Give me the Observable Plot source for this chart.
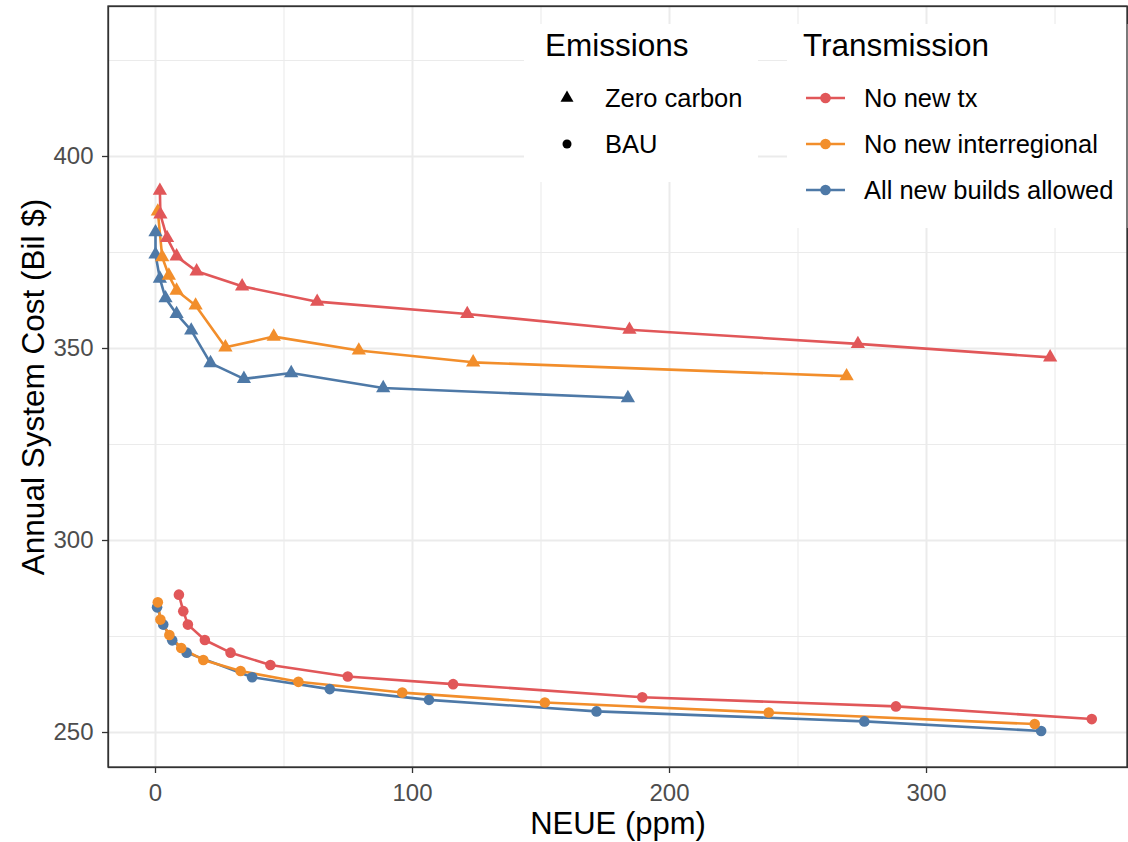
<!DOCTYPE html>
<html><head><meta charset="utf-8">
<script src="https://cdn.jsdelivr.net/npm/d3@7"></script>
<script src="https://cdn.jsdelivr.net/npm/@observablehq/plot@0.6"></script>
<style>
body{margin:0;background:#fff;}
#wrap{position:relative;width:1128px;height:842px;}
#wrap svg{display:block}
</style></head><body><div id="wrap"></div>
<script>
const txNames = ["No new tx","No new interregional","All new builds allowed"];
const txColors = ["#E15759","#F28E2B","#4E79A7"];
const emNames = ["Zero carbon","BAU"];
const emSymbols = ["triangle","circle"];
const xTicks = [0,100,200,300];
const xMinor = [50,150,250,350];
const yTicks = [250,300,350,400];
const yMinor = [275,325,375,425];
const xLabel = "NEUE (ppm)";
const yLabel = "Annual System Cost (Bil $)";

const zeroNoTx = [[1.7,391.1],[1.9,384.9],[4.5,378.8],[8.2,374.0],[16.0,370.1],[33.7,366.2],[62.9,362.2],[121.3,359.0],[184.4,354.9],[273.3,351.2],[348.1,347.7]];
const zeroNoInter = [[0.9,385.7],[2.6,373.8],[5.2,369.0],[8.2,365.1],[15.6,361.2],[27.2,350.3],[46.0,353.1],[79.1,349.5],[123.6,346.4],[268.9,342.8]];
const zeroAll = [[0,380.3],[0,374.5],[1.7,368.2],[3.9,363.1],[8.2,359.0],[13.9,354.7],[21.4,346.2],[34.4,342.1],[52.8,343.6],[88.6,339.7],[183.8,337.1]];
const bauNoTx = [[9.1,285.9],[10.8,281.6],[12.6,278.1],[19.2,274.1],[29.2,270.8],[44.7,267.6],[74.8,264.6],[115.8,262.6],[189.4,259.2],[288.1,256.8],[364.3,253.5]];
const bauNoInter = [[0.9,283.9],[1.9,279.4],[5.4,275.4],[10.0,272.0],[18.6,268.9],[33.1,266.0],[55.6,263.2],[96.0,260.4],[151.5,257.8],[238.6,255.2],[342.1,252.2]];
const bauAll = [[0.6,282.6],[3.0,278.1],[6.5,274.0],[12.1,270.8],[37.6,264.4],[67.8,261.3],[106.4,258.5],[171.6,255.5],[275.8,252.9],[344.6,250.4]];

const series = [
  {em:"Zero carbon", tx:"All new builds allowed", pts:zeroAll},
  {em:"Zero carbon", tx:"No new interregional", pts:zeroNoInter},
  {em:"Zero carbon", tx:"No new tx", pts:zeroNoTx},
  {em:"BAU", tx:"All new builds allowed", pts:bauAll},
  {em:"BAU", tx:"No new interregional", pts:bauNoInter},
  {em:"BAU", tx:"No new tx", pts:bauNoTx}
];
const data = series.flatMap(s => s.pts.map(([x,y]) => ({x, y, em:s.em, tx:s.tx, key:s.em+"|"+s.tx})));

const FONT = "'Liberation Sans', Arial, Helvetica, sans-serif";
const gridC = "#EBEBEB";

const chart = Plot.plot({
  width:1128, height:842,
  marginLeft:108, marginRight:1, marginTop:6, marginBottom:75,
  x:{domain:[-18.29,378.2]},
  y:{domain:[240.89,439.06]},
  color:{domain:txNames, range:txColors},
  symbol:{domain:emNames, range:emSymbols},
  style:{fontFamily:FONT, background:"white", overflow:"visible"},
  marks:[
    Plot.ruleX(xMinor,{stroke:gridC, strokeWidth:1.1}),
    Plot.ruleY(yMinor,{stroke:gridC, strokeWidth:1.1}),
    Plot.ruleX(xTicks,{stroke:gridC, strokeWidth:2}),
    Plot.ruleY(yTicks,{stroke:gridC, strokeWidth:2}),
    Plot.line(data,{x:"x", y:"y", z:"key", stroke:"tx", strokeWidth:2.6}),
    Plot.dot(data,{x:"x", y:"y", fill:"tx", symbol:"em", r:5.3}),
    Plot.frame({stroke:"#333333", strokeWidth:1.3}),
    Plot.axisX(xTicks,{tickSize:6, tickPadding:10, fontSize:24, stroke:"#333333", strokeWidth:1.3, fill:"#4D4D4D", label:null}),
    Plot.axisY(yTicks,{tickSize:6, tickPadding:9, fontSize:24, stroke:"#333333", strokeWidth:1.3, fill:"#4D4D4D", label:null}),
    Plot.text([xLabel],{text:d=>d, frameAnchor:"bottom", dy:57, textAnchor:"middle", lineAnchor:"middle", fontSize:31, fill:"black"}),
    Plot.text([yLabel],{text:d=>d, frameAnchor:"left", dx:-75, rotate:-90, textAnchor:"middle", lineAnchor:"middle", fontSize:31.5, fill:"black"})
  ]
});
const wrap = document.getElementById("wrap");
wrap.appendChild(chart);

// legend overlay
const ov = d3.select(wrap).append("svg")
  .attr("width",1128).attr("height",842)
  .style("position","absolute").style("left","0px").style("top","0px")
  .style("font-family",FONT);

// Emissions legend
ov.append("rect").attr("x",524).attr("y",24).attr("width",234).attr("height",158).attr("fill","white");
ov.append("text").attr("x",545).attr("y",56).attr("font-size",31.5).text("Emissions");
const emRows = [98,144];
emNames.forEach((n,i) => {
  const sym = emSymbols[i] === "triangle" ? d3.symbolTriangle : d3.symbolCircle;
  const size = emSymbols[i] === "triangle" ? 73 : 64;
  ov.append("path").attr("d", d3.symbol(sym, size)()).attr("transform",`translate(567,${emRows[i]})`).attr("fill","black");
  ov.append("text").attr("x",605).attr("y",emRows[i]).attr("dy","0.36em").attr("font-size",25.5).text(n);
});

// Transmission legend
ov.append("rect").attr("x",787).attr("y",24).attr("width",341).attr("height",204).attr("fill","white");
ov.append("text").attr("x",803).attr("y",56).attr("font-size",31.5).text("Transmission");
const txRows = [98,144,190];
txNames.forEach((n,i) => {
  ov.append("line").attr("x1",806).attr("x2",845).attr("y1",txRows[i]).attr("y2",txRows[i]).attr("stroke",txColors[i]).attr("stroke-width",2.6);
  ov.append("circle").attr("cx",825.5).attr("cy",txRows[i]).attr("r",5.3).attr("fill",txColors[i]);
  ov.append("text").attr("x",864).attr("y",txRows[i]).attr("dy","0.36em").attr("font-size",25.5).text(n);
});
// redraw panel border on top of legend (top/right)
ov.append("rect").attr("x",108).attr("y",6).attr("width",1019).attr("height",761).attr("fill","none").attr("stroke","#333333").attr("stroke-width",1.3);
</script></body></html>
